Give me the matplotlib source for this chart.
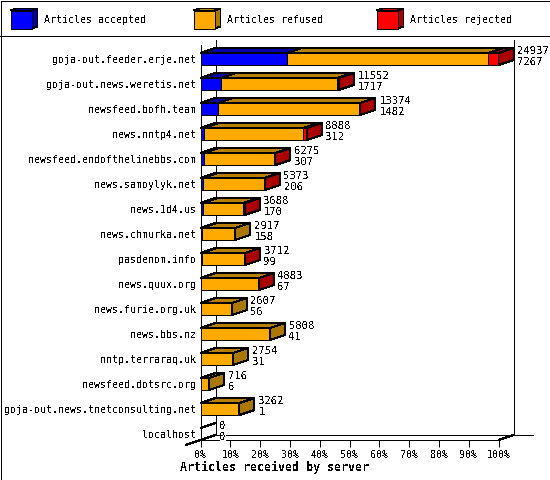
import matplotlib
matplotlib.use("Agg")
import matplotlib.pyplot as plt
from matplotlib.patches import Polygon

hosts = ["goja-out.feeder.erje.net", "goja-out.news.weretis.net", "newsfeed.bofh.team",
         "news.nntp4.net", "newsfeed.endofthelinebbs.com", "news.samoylyk.net", "news.1d4.us",
         "news.chmurka.net", "pasdenom.info", "news.quux.org", "news.furie.org.uk", "news.bbs.nz",
         "nntp.terraraq.uk", "newsfeed.dotsrc.org", "goja-out.news.tnetconsulting.net", "localhost"]
totals = [24937, 11552, 13374, 8888, 6275, 5373, 3688, 2917, 3712, 4883, 2607, 5808, 2754, 716, 3262, 0]
accepted = [7267, 1717, 1482, 312, 307, 206, 170, 158, 99, 67, 56, 41, 31, 6, 1, 0]
rejected = [840, 120, 40, 300, 30, 25, 130, 0, 15, 15, 0, 0, 0, 0, 0, 0]
series_names = ["Articles accepted", "Articles refused", "Articles rejected"]
tick_vals = list(range(0, 101, 10))
xlabel = "Articles received by server"

FRONT = ["#0000FF", "#FFAA00", "#FF0000"]
DARK = ["#0000AA", "#AA7700", "#AA0000"]
TOPC = ["#0000AA", "#B88000", "#CC0000"]

W, H = 550, 480
plt.rcParams["text.antialiased"] = False
plt.rcParams["font.family"] = "DejaVu Sans Mono"
FS = 7.2
LW = 0.72
fig = plt.figure(figsize=(W / 100, H / 100), dpi=100, facecolor="white")

L, R, T, B = 200.5, 498.5, 45.0, 440.0
ax = fig.add_axes([L / W, 1 - B / H, (R - L) / W, (B - T) / H])
ax.set_xlim(0, 100)
ax.set_ylim(15.24, -0.56)
ax.patch.set_visible(False)
for s in ("top", "right"):
    ax.spines[s].set_visible(False)
for s in ("left", "bottom"):
    ax.spines[s].set_linewidth(LW)
    ax.spines[s].set_antialiased(False)

DX = 15 / (R - L) * 100
DY = 5 / 25.0
HB = 0.24


def line(xs, ys, z=1):
    ax.plot(xs, ys, color="black", lw=LW, clip_on=False, antialiased=False, zorder=z, solid_capstyle="butt")


ybot = 15.24
ytop = -0.56
line([DX, DX], [ytop - DY, ybot - DY])
line([100 + DX, 100 + DX], [ytop - DY, ybot - DY])
line([DX, 100 + DX + 6.4], [ybot - DY, ybot - DY])
line([-DX, 0, DX], [ybot + DY, ybot, ybot - DY])
line([100, 100 + DX], [ybot, ybot - DY])

mx = max(totals)


def poly(pts, c, z):
    ax.add_patch(Polygon(pts, closed=True, facecolor=c, edgecolor="black", lw=LW,
                         clip_on=False, antialiased=False, zorder=z))


for i, (t, a, r) in enumerate(zip(totals, accepted, rejected)):
    z = 2 + i
    vals = [a, t - a - r, r]
    x0 = 0.0
    top, bot = i - HB, i + HB
    last = None
    for k, v in enumerate(vals):
        if v <= 0:
            continue
        x1 = x0 + v / mx * 100
        poly([(x0, top), (x0 + DX, top - DY), (x1 + DX, top - DY), (x1, top)], TOPC[k], z)
        poly([(x0, top), (x1, top), (x1, bot), (x0, bot)], FRONT[k], z)
        last = k
        x0 = x1
    if last is None:
        line([0, DX], [top, top - DY], z)
        line([0, DX], [bot, bot - DY], z)
    else:
        poly([(x0, top), (x0 + DX, top - DY), (x0 + DX, bot - DY), (x0, bot)], DARK[last], z)
    for txt, oy in ((t, 8), (a, -3)):
        ax.annotate(str(txt), (x0 + DX, i), xytext=(4, oy), textcoords="offset pixels",
                    ha="left", va="center", fontsize=7.6, annotation_clip=False, zorder=40,
                    bbox=dict(facecolor="white", edgecolor="none", pad=0))

ax.set_yticks(range(len(hosts)))
ax.set_yticklabels(hosts, fontsize=FS)
ax.tick_params(axis="y", length=0, pad=3)
ax.set_xticks(tick_vals)
ax.set_xticklabels([f"{v}%" for v in tick_vals], fontsize=FS)
ax.tick_params(axis="x", length=5, width=LW, pad=2)

# legend strip, frame and axis title, in pixel coordinates
lg = fig.add_axes([0, 0, 1, 1], zorder=-1)
lg.set_xlim(0, W)
lg.set_ylim(H, 0)
lg.axis("off")
lg.plot([0, W], [35.5, 35.5], color="black", lw=LW, antialiased=False)
lg.plot([0.5, W - 0.5, W - 0.5, 0.5, 0.5], [0.5, 0.5, H - 0.5, H - 0.5, 0.5], color="black", lw=LW, antialiased=False)
for k, (name, x) in enumerate(zip(series_names, (10.5, 193.5, 376.5))):
    w, h, dx, dy = 21, 18, 6, 2
    y = 10.5
    kw = dict(closed=True, edgecolor="black", lw=LW, antialiased=False)
    lg.add_patch(Polygon([(x, y), (x + dx, y - dy), (x + w + dx, y - dy), (x + w, y)], facecolor=TOPC[k], **kw))
    lg.add_patch(Polygon([(x + w, y), (x + w + dx, y - dy), (x + w + dx, y + h - dy), (x + w, y + h)], facecolor=DARK[k], **kw))
    lg.add_patch(Polygon([(x, y), (x + w, y), (x + w, y + h), (x, y + h)], facecolor=FRONT[k], **kw))
    lg.text(x + 33.5, 20, name, fontsize=FS, va="center", ha="left")
lg.text(274, 467.5, xlabel, fontsize=8.4, fontweight="bold", va="center", ha="center")

fig.savefig("out.png", dpi=100)
